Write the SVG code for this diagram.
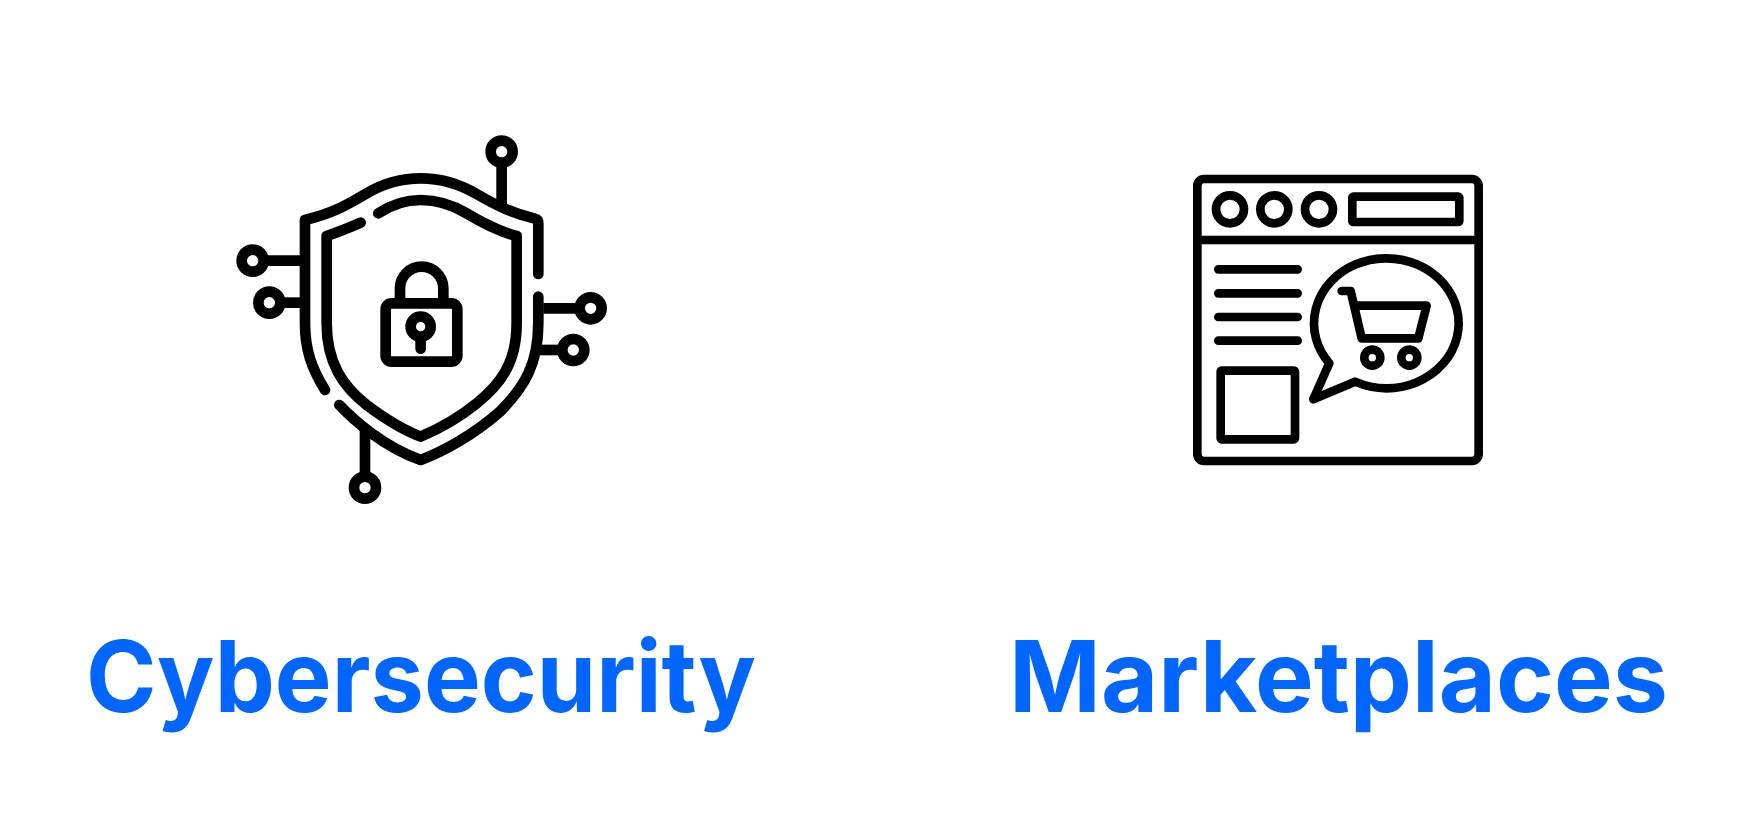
<svg xmlns="http://www.w3.org/2000/svg" width="1755" height="834" viewBox="0 0 1755 834">
<style>
.i{fill:none;stroke:#000;stroke-linecap:round;stroke-linejoin:round}
.s{stroke-width:32}
.w{stroke-width:26}
.t{font-family:"Inter","Liberation Sans",sans-serif;font-weight:700;font-size:99px;fill:#0066ff}
</style>
<rect width="1755" height="834" fill="#fff"/>
<g id="cyber-icon" class="i s" transform="translate(210 110) scale(.3333)">
<path d="M985 492V340Q985 328 975 326C910 310 865 290 800 252C740 217 690 205 632 205C570 205 520 220 470 250C410 285 370 310 285 330V640C285 720 305 775 345 840"/>
<path d="M388 885C430 930 520 1010 632 1050C700 1025 790 975 870 905C945 830 985 760 985 640V560"/>
<path d="M452 338C420 352 390 365 350 378V640C350 760 400 830 470 885C530 930 580 960 632 980C690 955 745 925 800 880C870 825 920 760 920 640V378C870 365 820 340 770 310C720 280 680 270 632 270C590 270 550 280 505 310"/>
<rect x="527" y="580" width="215" height="175" rx="18"/>
<path d="M570 575V535A65 65 0 0 1 700 535V575"/>
<circle cx="632" cy="650" r="30"/>
<path d="M632 690V716"/>
<circle cx="875" cy="125" r="33"/><path d="M875 165V285" stroke-linecap="butt"/>
<circle cx="128" cy="452" r="33"/><path d="M170 452H270" stroke-linecap="butt"/>
<circle cx="178" cy="578" r="33"/><path d="M220 578H270" stroke-linecap="butt"/>
<circle cx="1142" cy="595" r="33"/><path d="M1000 595H1100" stroke-linecap="butt"/>
<circle cx="1090" cy="720" r="33"/><path d="M990 720H1050" stroke-linecap="butt"/>
<circle cx="465" cy="1133" r="33"/><path d="M465 960V1095" stroke-linecap="butt"/>
</g>
<g id="market-icon" class="i w" transform="translate(1170 150) scale(.3333)">
<rect x="82" y="87" width="844" height="846" rx="20"/>
<path d="M82 270H938" stroke-linecap="butt"/>
<circle cx="180" cy="178" r="42"/><circle cx="313" cy="178" r="42"/><circle cx="447" cy="178" r="42"/>
<rect x="547" y="140" width="321" height="76" rx="3"/>
<path d="M145 358H383M145 430H383M145 501H383M145 572H383"/>
<rect x="152" y="662" width="223" height="206" rx="3"/>
<path d="M478 640L430 748L555 695C585 708 618 715 650 715A217 195 0 1 0 478 640Z"/>
<path d="M515 423H542L575 565H745L770 467H560"/>
<circle cx="607" cy="623" r="24"/><circle cx="718" cy="623" r="24"/>
</g>
<text id="cyber-label" class="t" x="86" y="712" textLength="670" lengthAdjust="spacingAndGlyphs">Cybersecurity</text>
<text id="market-label" class="t" x="1009" y="712" textLength="659" lengthAdjust="spacingAndGlyphs">Marketplaces</text>
</svg>
